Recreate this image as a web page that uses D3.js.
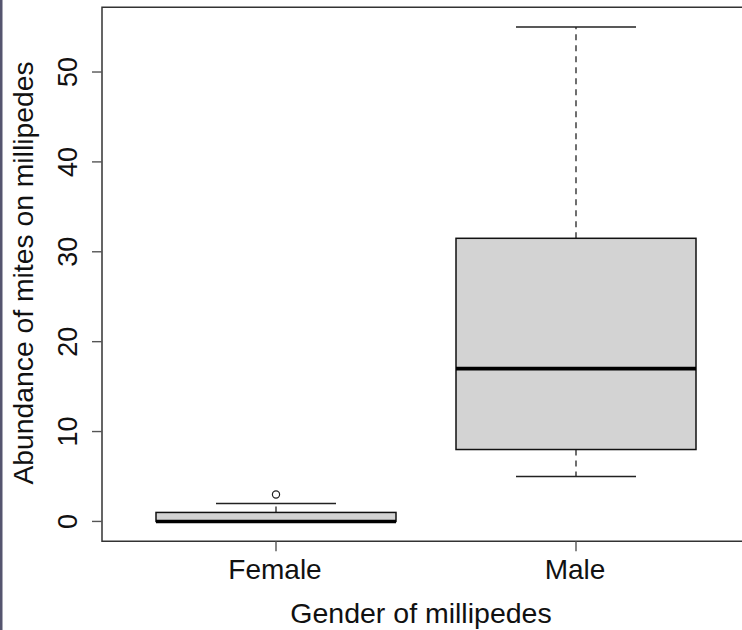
<!DOCTYPE html>
<html>
<head>
<meta charset="utf-8">
<script src="https://cdn.jsdelivr.net/npm/d3@7"></script>
<style>
html,body{margin:0;padding:0;background:#fff;}
svg{display:block;font-family:"Liberation Sans",Arial,sans-serif;}
</style>
</head>
<body>
<svg id="chart" width="742" height="630"></svg>
<script>
// ---- data ----
const categories = ["Female", "Male"];
const q1 = [0, 8];
const medians = [0, 17];
const q3 = [1, 31.5];
const whiskerLow = [0, 5];
const whiskerHigh = [2, 55];
const outliers = [[3], []];
const yTicks = [0, 10, 20, 30, 40, 50];
const xTitle = "Gender of millipedes";
const yTitle = "Abundance of mites on millipedes";

const svg = d3.select("#chart");

const x = d3.scaleLinear().domain([0.42, 2.58]).range([102, 750]);
const y = d3.scaleLinear().domain([-2.2, 57.2]).range([541.2, 7.3]);

// left page edge line
svg.append("rect").attr("x", 0).attr("y", 0).attr("width", 2.5).attr("height", 630).attr("fill", "#55556f");

const boxW = 0.8, stapleW = 0.4;
const g = svg.append("g");

categories.forEach((c, i) => {
  const cx = i + 1;
  // whiskers (dashed)
  g.append("line").attr("x1", x(cx)).attr("x2", x(cx)).attr("y1", y(q3[i])).attr("y2", y(whiskerHigh[i]))
    .attr("stroke", "#222").attr("stroke-width", 1.3).attr("stroke-dasharray", "6,5");
  g.append("line").attr("x1", x(cx)).attr("x2", x(cx)).attr("y1", y(q1[i])).attr("y2", y(whiskerLow[i]))
    .attr("stroke", "#222").attr("stroke-width", 1.3).attr("stroke-dasharray", "6,5");
  // staples
  [whiskerHigh[i], whiskerLow[i]].forEach(v => {
    g.append("line").attr("x1", x(cx - stapleW / 2)).attr("x2", x(cx + stapleW / 2)).attr("y1", y(v)).attr("y2", y(v))
      .attr("stroke", "#222").attr("stroke-width", 1.5);
  });
  // box
  g.append("rect").attr("x", x(cx - boxW / 2)).attr("width", x(cx + boxW / 2) - x(cx - boxW / 2))
    .attr("y", y(q3[i])).attr("height", y(q1[i]) - y(q3[i]))
    .attr("fill", "#d3d3d3").attr("stroke", "#111").attr("stroke-width", 1.5);
  // median
  g.append("line").attr("x1", x(cx - boxW / 2)).attr("x2", x(cx + boxW / 2)).attr("y1", y(medians[i])).attr("y2", y(medians[i]))
    .attr("stroke", "#000").attr("stroke-width", 3.6);
  // outliers
  outliers[i].forEach(v => {
    g.append("circle").attr("cx", x(cx)).attr("cy", y(v)).attr("r", 3.6)
      .attr("fill", "none").attr("stroke", "#222").attr("stroke-width", 1.2);
  });
});

// frame
svg.append("path")
  .attr("d", `M${x(2.58) + 5},${y(57.2)} H${x(0.42)} V${y(-2.2)} H${x(2.58) + 5}`)
  .attr("fill", "none").attr("stroke", "#333").attr("stroke-width", 1.5);

// y axis ticks
yTicks.forEach(t => {
  svg.append("line").attr("x1", x(0.42) - 10).attr("x2", x(0.42)).attr("y1", y(t)).attr("y2", y(t))
    .attr("stroke", "#555").attr("stroke-width", 1.4);
  svg.append("text").attr("transform", `translate(77,${y(t)}) rotate(-90)`)
    .attr("text-anchor", "middle").attr("font-size", 27).attr("fill", "#111").text(t);
});

// x axis ticks
categories.forEach((c, i) => {
  svg.append("line").attr("x1", x(i + 1)).attr("x2", x(i + 1)).attr("y1", y(-2.2)).attr("y2", y(-2.2) + 10)
    .attr("stroke", "#555").attr("stroke-width", 1.4);
  svg.append("text").attr("x", x(i + 1) - 1).attr("y", 579)
    .attr("text-anchor", "middle").attr("font-size", 28).attr("fill", "#111").text(c);
});

// titles
svg.append("text").attr("x", 421).attr("y", 623).attr("text-anchor", "middle")
  .attr("font-size", 28.5).attr("fill", "#111").text(xTitle);
svg.append("text").attr("transform", `translate(33,273) rotate(-90)`).attr("text-anchor", "middle")
  .attr("font-size", 28.3).attr("fill", "#111").text(yTitle);
</script>
</body>
</html>
